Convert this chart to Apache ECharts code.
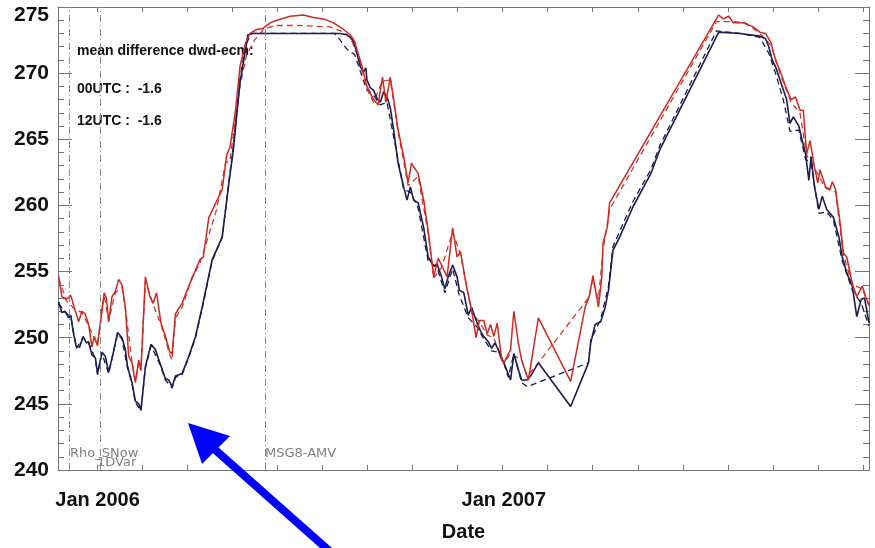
<!DOCTYPE html>
<html>
<head>
<meta charset="utf-8">
<script src="https://cdn.jsdelivr.net/npm/echarts@6/dist/echarts.min.js"></script>
<style>
  html, body { margin: 0; padding: 0; background: #fff; }
  #chart { width: 875px; height: 548px; }
</style>
</head>
<body>
<div id="chart"></div>
<script>
// days since 1 Jan 2006, values in K
const navyDays = [-35,-32,-29,-26,-24,-22,-19,-16,-13,-10,-8,-5,-2,0,4,7,10,14,18,22,25,27,31,34,37,39,43,48,52,56,61,64,67,70,76,82,88,94,103,112,118,122,128,133,135,140,164,182,200,218,224,227,230,233,236,239,241,242,245,248,251,254,257,260,263,266,270,275,278,281,284,288,293,297,302,305,309,312,315,319,323,325,329,333,336,341,344,347,351,354,357,360,365,371,374,378,381,386,389,396,425,441,443,447,452,456,459,463,469,481,497,505,558,577,595,600,603,606,609,613,619,622,625,630,633,636,639,641,644,648,651,655,661,666,669,673,678,682,686,689,692,693];
const navyVals = [252.7,251.9,252.0,251.5,251.7,250.5,249.3,249.3,250.1,249.6,249.7,248.7,248.5,247.3,248.9,248.6,247.4,248.8,250.4,250.0,249.1,247.8,246.6,245.2,245.0,244.5,247.8,249.5,249.1,248.1,246.9,246.8,246.3,247.1,247.3,248.6,250.1,252.3,255.9,257.6,261.7,264.2,269.3,271.8,272.9,273.0,273.0,273.0,273.0,273.0,272.9,272.7,272.4,271.5,270.5,270.1,270.4,269.5,268.9,268.7,268.1,267.8,268.6,268.2,267.4,265.7,263.2,261.4,260.4,261.4,260.4,260.2,258.3,256.1,255.4,255.6,254.6,253.7,254.6,255.5,254.6,253.6,253.4,251.7,252.3,251.1,250.5,250.1,249.7,249.2,249.6,249.1,248.1,246.8,248.8,247.6,246.8,246.8,247.1,248.1,244.8,248.1,249.6,251.0,251.2,252.3,253.6,256.6,257.6,259.9,262.4,264.2,273.1,273.0,272.8,272.6,272.0,271.0,270.5,269.5,268.0,266.2,266.7,266.0,264.9,263.9,261.9,263.7,261.4,259.7,260.7,259.7,259.1,257.6,256.1,254.9,253.9,251.6,252.9,253.0,251.6,251.1];

const navyDashDays = [-35,-29,-24,-19,-13,-8,-2,0,4,10,18,22,27,31,34,39,43,48,56,61,67,70,76,82,88,94,103,112,118,122,128,133,138,150,180,213,218,224,231,237,242,248,254,260,266,275,281,288,297,305,312,319,325,333,341,347,354,360,365,369,374,381,386,441,443,452,459,463,481,497,505,556,577,595,603,609,616,622,630,636,641,648,655,661,669,678,686,693];
const navyDashVals = [252.6,251.9,251.6,249.2,250.0,249.6,248.4,247.2,248.8,247.3,250.3,249.9,247.7,246.5,245.1,244.5,247.7,249.4,248.0,246.8,246.2,247.0,247.2,248.5,250.0,252.2,255.8,257.6,261.8,264.5,269.6,272.1,273.0,273.0,273.0,273.0,272.5,271.8,271.4,269.9,268.7,268.3,267.6,267.8,265.2,261.2,261.0,259.8,255.8,255.3,253.4,255.2,253.2,251.5,250.8,249.9,249.0,248.9,248.1,247.0,248.8,246.6,246.3,248.1,249.8,251.4,253.9,256.9,260.3,262.7,264.5,273.2,273.0,272.7,271.5,270.0,268.0,265.6,265.7,263.5,263.2,259.4,259.5,258.9,255.8,253.6,252.6,250.9];

const redDays = [-35,-32,-28,-24,-21,-17,-14,-11,-8,-5,-3,0,4,6,8,10,13,16,19,22,25,28,31,34,37,39,43,47,50,53,57,61,65,67,70,76,82,92,95,100,112,116,119,124,128,133,137,143,149,155,161,173,185,194,203,212,221,227,231,234,237,242,248,252,256,259,263,266,270,275,279,282,288,293,297,302,306,309,314,319,323,326,331,336,340,343,347,350,353,356,359,363,365,371,374,378,381,387,396,425,438,442,445,450,453,454,458,460,558,562,567,571,580,589,595,600,605,609,613,618,623,627,631,634,637,640,644,647,649,654,658,660,663,667,670,673,678,682,687,690,693];
const redVals = [254.7,253.1,252.9,253.2,252.3,251.2,252.0,251.8,251.0,249.3,250.1,249.4,252.1,253.4,253.0,251.2,253.1,253.5,254.4,254.0,252.3,248.6,248.1,246.6,248.3,247.6,254.6,253.1,252.6,253.4,251.1,250.1,248.9,248.8,251.8,252.6,253.9,255.9,256.1,259.1,261.2,263.8,264.4,267.2,270.5,272.3,273.0,273.3,273.4,273.8,274.0,274.3,274.4,274.2,274.1,273.8,273.3,272.9,272.4,271.5,270.7,269.0,268.0,267.6,269.7,267.8,269.7,268.0,265.7,263.7,261.7,263.2,262.4,260.4,258.1,254.6,256.0,255.5,254.6,258.3,256.1,256.5,254.1,252.1,250.0,251.3,251.3,250.3,251.0,250.1,251.1,248.4,248.1,249.1,252.0,249.6,248.3,246.8,251.5,246.7,252.3,253.2,254.7,252.3,254.6,257.1,258.4,260.2,274.4,274.1,274.3,273.8,273.8,273.5,273.1,273.0,272.3,271.0,270.2,269.0,268.0,268.2,267.2,267.2,263.9,264.9,262.9,261.7,262.7,261.4,261.2,261.8,261.2,258.7,256.4,256.1,254.1,253.1,253.9,253.1,252.5];

const redDashDays = [-35,-28,-21,-14,-8,-3,0,6,10,16,22,25,31,34,37,39,43,50,57,65,67,70,76,85,92,107,115,119,128,134,141,149,159,180,209,221,227,234,242,248,256,263,270,279,288,297,302,309,319,326,336,343,350,356,363,365,371,381,386,396,441,445,450,454,460,556,562,571,582,595,605,613,623,631,637,644,654,663,670,678,687,693];
const redDashVals = [254.5,252.8,252.2,251.9,250.9,250.0,249.5,253.2,251.3,253.4,253.8,252.2,248.2,246.7,248.1,247.5,254.3,252.5,251.0,248.7,248.3,251.5,252.3,254.6,255.6,259.7,263.2,263.4,269.1,271.4,272.5,273.3,273.6,273.6,273.5,273.1,272.7,271.3,268.8,267.8,269.4,269.5,265.6,261.5,262.2,257.9,254.5,255.3,258.0,256.3,251.9,251.2,250.2,250.0,248.3,248.1,248.8,248.3,247.1,248.1,253.0,254.4,252.9,256.6,259.7,273.9,273.9,273.9,273.8,273.0,272.1,270.0,267.8,267.0,263.8,262.8,261.3,261.0,256.3,254.0,253.7,252.4];

// x tick positions (days) and labelled dates
const tickStep = 40.44;
const xTicks = [];
for (let k = 0; k <= 17; k++) xTicks.push(+(k * tickStep).toFixed(2));
const xLabelDays = [0, 365];
const xLabelText = { 0: 'Jan 2006', 365: 'Jan 2007' };

// events drawn as vertical lines
const eventDays = [-25.6, 2.2, 150.5];

const zip = (a, b) => a.map((d, i) => [d, b[i]]);

const chart = echarts.init(document.getElementById('chart'));
const font = '"Liberation Sans", Arial, Helvetica, sans-serif';
const axisColor = '#777';

const xBase = {
    type: 'value',
    min: -35.5,
    max: 693,
    splitLine: { show: false },
    axisLine: { show: true, onZero: false, lineStyle: { color: axisColor, width: 1 } },
    axisTick: { show: true, inside: true, length: 5, customValues: xTicks, lineStyle: { color: axisColor } }
};
const yBase = {
    type: 'value',
    min: 240,
    max: 275,
    interval: 5,
    splitLine: { show: false },
    axisLine: { show: true, onZero: false, lineStyle: { color: axisColor, width: 1 } },
    axisTick: { show: true, inside: true, length: 14, lineStyle: { color: axisColor } },
    minorTick: { show: true, splitNumber: 5, length: 6, lineStyle: { color: axisColor } }
};

const option = {
    backgroundColor: '#fff',
    animation: false,
    grid: { left: 58, right: 6, top: 7, bottom: 78 },
    xAxis: [
        Object.assign({}, xBase, {
            position: 'bottom',
            name: 'Date',
            nameLocation: 'middle',
            nameGap: 52,
            nameTextStyle: { fontFamily: font, fontWeight: 'bold', fontSize: 20, color: '#111' },
            axisLabel: {
                customValues: xLabelDays,
                formatter: v => xLabelText[Math.round(v)] || '',
                fontFamily: font, fontWeight: 'bold', fontSize: 20, color: '#111', margin: 20
            }
        }),
        Object.assign({}, xBase, { position: 'top', axisLabel: { show: false } })
    ],
    yAxis: [
        Object.assign({}, yBase, {
            position: 'left',
            axisLabel: {
                fontFamily: font, fontWeight: 'bold', fontSize: 21, color: '#111', margin: 9,
                formatter: v => (v === 275 ? '{top|275}' : String(v)),
                rich: { top: { fontFamily: font, fontWeight: 'bold', fontSize: 21, color: '#111', padding: [16, 0, 0, 0] } }
            }
        }),
        Object.assign({}, yBase, { position: 'right', axisLabel: { show: false } })
    ],
    series: [
        {
            name: 'ecm 12UTC', type: 'line', showSymbol: false, z: 2,
            data: zip(navyDashDays, navyDashVals),
            lineStyle: { color: '#1c1c4e', width: 1.3, type: [6, 4] },
            markLine: {
                silent: true, symbol: ['none', 'none'], label: { show: false },
                lineStyle: { color: '#888', width: 1, type: [7, 3, 1, 3] },
                data: eventDays.map(d => ({ xAxis: d }))
            }
        },
        {
            name: 'dwd 12UTC', type: 'line', showSymbol: false, z: 2,
            data: zip(redDashDays, redDashVals),
            lineStyle: { color: '#d03a32', width: 1.3, type: [6, 4] }
        },
        {
            name: 'ecm 00UTC', type: 'line', showSymbol: false, z: 3,
            data: zip(navyDays, navyVals),
            lineStyle: { color: '#1c1c4e', width: 1.6 }
        },
        {
            name: 'dwd 00UTC', type: 'line', showSymbol: false, z: 3,
            data: zip(redDays, redVals),
            lineStyle: { color: '#cc2a22', width: 1.5 }
        }
    ],
    graphic: [
        { type: 'text', left: 77, top: 44, style: { text: 'mean difference dwd-ecm:', font: 'bold 14px ' + font, fill: '#111' } },
        { type: 'text', left: 77, top: 82, style: { text: '00UTC :  -1.6', font: 'bold 14px ' + font, fill: '#111' } },
        { type: 'text', left: 77, top: 114, style: { text: '12UTC :  -1.6', font: 'bold 14px ' + font, fill: '#111' } },
        { type: 'text', left: 70, top: 447, style: { text: 'Rho_SNow', font: '13px "DejaVu Sans", sans-serif', fill: '#808080' } },
        { type: 'text', left: 97, top: 456, style: { text: '1DVar', font: '13px "DejaVu Sans", sans-serif', fill: '#808080' } },
        { type: 'text', left: 265, top: 447, style: { text: 'MSG8-AMV', font: '13px "DejaVu Sans", sans-serif', fill: '#808080' } },
        { type: 'line', z: 100, shape: { x1: 335, y1: 556, x2: 212, y2: 447 }, style: { stroke: '#0000ff', lineWidth: 8 } },
        { type: 'polygon', z: 100, shape: { points: [[188, 423], [230, 436], [202, 464]] }, style: { fill: '#0000ff' } }
    ]
};
chart.setOption(option);
</script>
</body>
</html>
